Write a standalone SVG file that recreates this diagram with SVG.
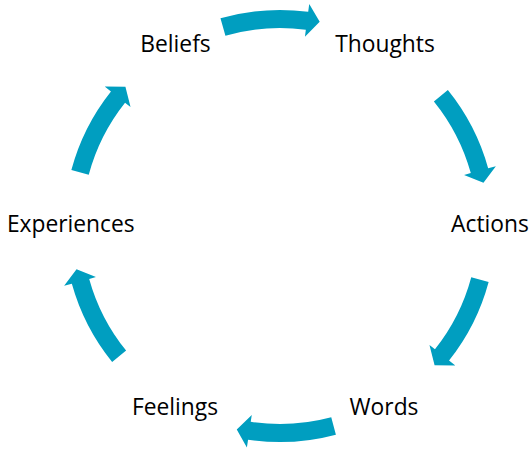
<svg xmlns="http://www.w3.org/2000/svg" xmlns:xlink="http://www.w3.org/1999/xlink" width="530" height="449" viewBox="0 0 530 449">
<style>
.lbl{font-family:"Open Sans","Liberation Sans",sans-serif;font-size:22.8px;fill:#000;text-anchor:middle}
.arr{fill:#009ec0}
</style>
<defs>
<path id="arr" class="arr" d="M209.58,-52.25 A216,216 0 0 1 213.04,35.65 L220.93,36.97 L202.67,46.79 L188.38,31.52 L195.29,32.68 A198,198 0 0 0 192.12,-47.90 Z"/>
</defs>
<rect width="530" height="449" fill="#fff"/>
<g id="connectors">
<use href="#arr" xlink:href="#arr" transform="translate(280,226) rotate(-92)"/>
<use href="#arr" xlink:href="#arr" transform="translate(280,226) rotate(-25)"/>
<use href="#arr" xlink:href="#arr" transform="translate(280,226) rotate(29)"/>
<use href="#arr" xlink:href="#arr" transform="translate(280,226) rotate(89)"/>
<use href="#arr" xlink:href="#arr" transform="translate(280,226) rotate(155)"/>
<use href="#arr" xlink:href="#arr" transform="translate(280,226) rotate(209)"/>
</g>
<g id="beliefs"><text class="lbl" x="175.5" y="52">Beliefs</text></g>
<g id="thoughts"><text class="lbl" x="385" y="52">Thoughts</text></g>
<g id="actions"><text class="lbl" x="490" y="232">Actions</text></g>
<g id="words"><text class="lbl" x="384" y="415">Words</text></g>
<g id="feelings"><text class="lbl" x="175" y="415">Feelings</text></g>
<g id="experiences"><text class="lbl" x="70.8" y="232">Experiences</text></g>
</svg>
